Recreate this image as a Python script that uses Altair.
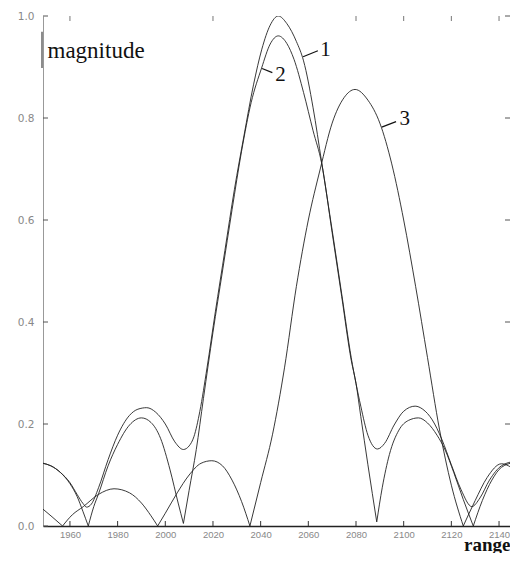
import altair as alt
import pandas as pd

# ---------------- data ----------------
X_MIN, X_MAX = 1948.7, 2144.6
x_ticks = [1960, 1980, 2000, 2020, 2040, 2060, 2080, 2100, 2120, 2140]
y_ticks = [0.0, 0.2, 0.4, 0.6, 0.8, 1.0]
top_ticks = [1960, 2020, 2080, 2100, 2120, 2140]
right_ticks = [0.2, 0.4, 0.6, 0.8, 1.0]

# curve 1 (sum, minima do not reach zero)
c1_x = [1948.7, 1952, 1956, 1960, 1963, 1965.5, 1967, 1969, 1972, 1976, 1980, 1985,
        1988.5, 1992.2, 1996, 2000, 2004, 2007.6, 2010, 2012, 2014.5, 2017.5, 2021,
        2025, 2029, 2033, 2037, 2040.5, 2044, 2047.4, 2051, 2055, 2058, 2062, 2065.6,
        2070, 2074, 2078, 2082, 2085, 2089, 2092, 2096, 2100, 2104.8, 2108, 2112,
        2116, 2120, 2124, 2128.6, 2132, 2136, 2141, 2146.7]
c1_y = [0.123, 0.118, 0.105, 0.085, 0.062, 0.044, 0.037, 0.043, 0.075, 0.13, 0.178, 0.217,
        0.229, 0.232, 0.223, 0.2, 0.165, 0.15, 0.157, 0.175, 0.225, 0.31, 0.42,
        0.54, 0.66, 0.765, 0.865, 0.935, 0.982, 1.0, 0.985, 0.95, 0.912, 0.82, 0.713,
        0.58, 0.455, 0.33, 0.235, 0.178, 0.151, 0.162, 0.198, 0.225, 0.235, 0.229, 0.208,
        0.17, 0.12, 0.072, 0.038, 0.055, 0.09, 0.118, 0.127]

# curve 2 (lobes between nulls)
c2_lobes_x = [
    [1948.7, 1952, 1956, 1960, 1963, 1965.5, 1967.7],
    [1967.7, 1970, 1972, 1976, 1980, 1985, 1990, 1994, 1998, 2002, 2005.4, 2007.6],
    [2007.6, 2010, 2013, 2016, 2020, 2024, 2028, 2032, 2036, 2040.4, 2044, 2047.4,
     2051, 2054, 2058, 2062, 2065.6, 2070, 2074, 2078, 2080, 2082, 2085, 2088.7],
    [2088.7, 2091, 2094, 2098, 2102, 2106.2, 2110, 2114, 2117.4, 2121, 2125, 2129.2],
    [2129.2, 2133, 2137, 2141, 2146.7],
]
c2_lobes_y = [
    [0.123, 0.118, 0.105, 0.083, 0.058, 0.028, 0.0],
    [0.0, 0.038, 0.063, 0.118, 0.16, 0.198, 0.212, 0.203, 0.172, 0.11, 0.045, 0.005],
    [0.005, 0.07, 0.15, 0.25, 0.38, 0.5, 0.62, 0.735, 0.83, 0.898, 0.945, 0.961,
     0.946, 0.915, 0.85, 0.775, 0.711, 0.575, 0.45, 0.325, 0.28, 0.215, 0.12, 0.008],
    [0.008, 0.075, 0.14, 0.188, 0.207, 0.212, 0.202, 0.178, 0.149, 0.105, 0.052, 0.0],
    [0.0, 0.05, 0.09, 0.115, 0.125],
]

# curve 3 (shifted response, lobes between nulls)
c3_lobes_x = [
    [1948.7, 1952.5, 1956.9],
    [1956.9, 1961, 1965.6, 1972, 1978.5, 1985, 1990, 1994, 1996.8],
    [1996.8, 2000, 2005, 2010, 2015, 2019.5, 2024, 2028, 2032, 2035.5],
    [2035.5, 2040, 2045, 2050, 2055, 2060, 2065, 2070, 2075, 2079.6, 2085, 2090,
     2095, 2100, 2105, 2110, 2115, 2120, 2125],
    [2125, 2130, 2135, 2141, 2146.7],
]
c3_lobes_y = [
    [0.033, 0.018, 0.0],
    [0.0, 0.022, 0.038, 0.062, 0.073, 0.065, 0.045, 0.02, 0.0],
    [0.0, 0.025, 0.065, 0.1, 0.123, 0.128, 0.118, 0.09, 0.048, 0.0],
    [0.0, 0.085, 0.18, 0.31, 0.47, 0.6, 0.7, 0.79, 0.84, 0.856, 0.835, 0.79,
     0.71, 0.6, 0.47, 0.33, 0.19, 0.08, 0.0],
    [0.0, 0.05, 0.095, 0.122, 0.11],
]

# curve labels and leader lines (data units)
lab_text = ["1", "2", "3"]
lab_x = [2067.2, 2048.3, 2100.5]
lab_y = [0.934, 0.884, 0.799]
lead_x1 = [2057.8, 2040.6, 2090.8]
lead_y1 = [0.920, 0.897, 0.782]
lead_x2 = [2064.0, 2044.9, 2096.8]
lead_y2 = [0.932, 0.889, 0.793]

# ---------------- tables ----------------
rows = []
for x, y in zip(c1_x, c1_y):
    rows.append({"seg": "c1", "x": x, "y": y})
for i, (lx, ly) in enumerate(zip(c2_lobes_x, c2_lobes_y)):
    for x, y in zip(lx, ly):
        rows.append({"seg": f"c2_{i}", "x": x, "y": y})
for i, (lx, ly) in enumerate(zip(c3_lobes_x, c3_lobes_y)):
    for x, y in zip(lx, ly):
        rows.append({"seg": f"c3_{i}", "x": x, "y": y})
df = pd.DataFrame(rows)

labels_df = pd.DataFrame({"t": lab_text, "x": lab_x, "y": lab_y})
leads_df = pd.DataFrame({"x": lead_x1, "y": lead_y1, "x2": lead_x2, "y2": lead_y2})
left_df = pd.DataFrame({"y": y_ticks})
right_df = pd.DataFrame({"y": right_ticks})
bottom_df = pd.DataFrame({"x": x_ticks})
top_df = pd.DataFrame({"x": top_ticks})
bar_df = pd.DataFrame({"y": [0.898], "y2": [0.969]})

W, H = 467, 510
xs = alt.Scale(domain=[X_MIN, X_MAX], nice=False, zero=False)
ys = alt.Scale(domain=[0, 1], nice=False, zero=False)

x_axis = alt.Axis(values=x_ticks, format="d", ticks=False, tickSize=0, grid=False,
                  domainColor="#222", domainWidth=1.5,
                  labelColor="#888", labelFont="Liberation Sans", labelFontSize=9.5,
                  labelPadding=3,
                  title="range", titleFont="Liberation Serif", titleFontSize=19,
                  titleFontWeight="bold", titleColor="#111", titleAlign="right",
                  titleBaseline="alphabetic", titleX=W, titleY=24)
y_axis = alt.Axis(values=y_ticks, format=".1f", ticks=False, tickSize=0, grid=False,
                  domainColor="#999", domainWidth=1,
                  labelColor="#888", labelFont="DejaVu Sans", labelFontSize=10.5,
                  labelPadding=9,
                  title="magnitude", titleFont="Liberation Serif", titleFontSize=23,
                  titleFontWeight="normal", titleColor="#111", titleAngle=0,
                  titleAlign="left", titleBaseline="alphabetic", titleX=4, titleY=41)

X = alt.X("x:Q", scale=xs, axis=x_axis)
Y = alt.Y("y:Q", scale=ys, axis=y_axis)

lines = alt.Chart(df).mark_line(interpolate="monotone", color="#222", strokeWidth=0.9,
                                clip=True).encode(x=X, y=Y, detail="seg:N")

tick_col = "#555"
left_t = alt.Chart(left_df).mark_rule(color=tick_col, strokeWidth=1).encode(
    y=Y, x=alt.value(0), x2=alt.value(5))
right_t = alt.Chart(right_df).mark_rule(color=tick_col, strokeWidth=1).encode(
    y=Y, x=alt.value(W - 5), x2=alt.value(W))
bottom_t = alt.Chart(bottom_df).mark_rule(color="#333", strokeWidth=1).encode(
    x=X, y=alt.value(H), y2=alt.value(H - 5))
top_t = alt.Chart(top_df).mark_rule(color="#777", strokeWidth=1).encode(
    x=X, y=alt.value(0), y2=alt.value(5))

bar = alt.Chart(bar_df).mark_rule(color="#666", strokeWidth=1.5).encode(
    y=Y, y2="y2:Q", x=alt.value(-1))

leads = alt.Chart(leads_df).mark_rule(color="#111", strokeWidth=1.2).encode(
    x=X, x2="x2:Q", y=Y, y2="y2:Q")

texts = alt.Chart(labels_df).mark_text(font="Liberation Serif", fontSize=21, color="#111",
                                       align="center", baseline="middle").encode(
    x=X, y=Y, text="t:N")

chart = alt.layer(lines, left_t, right_t, bottom_t, top_t, bar, leads, texts).properties(
    width=W, height=H,
    autosize=alt.AutoSizeParams(type="none"),
    padding={"left": 35, "top": 8, "right": 0, "bottom": 27},
    background="white",
).configure_view(stroke=None)

chart.save("out.html", embed_options={"renderer": "svg", "actions": False})
